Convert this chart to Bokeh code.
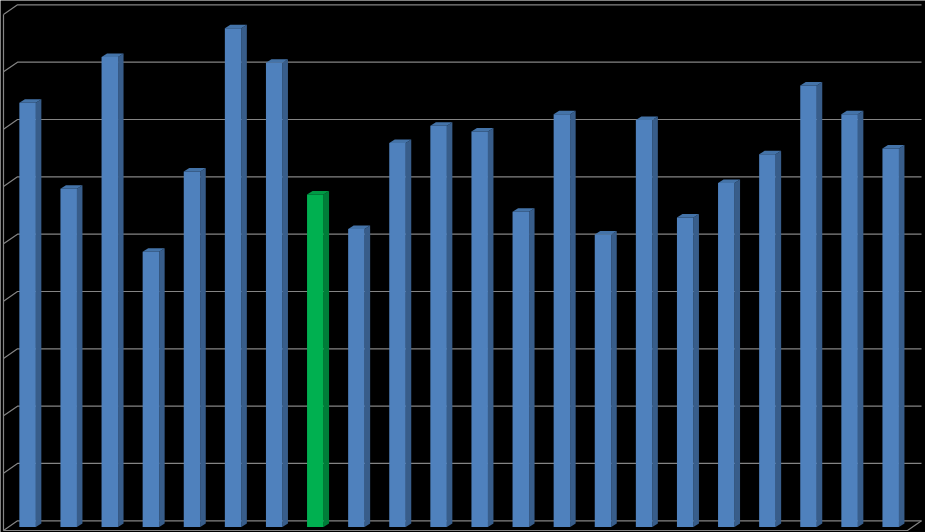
from bokeh.plotting import figure
from bokeh.models import Range1d
from bokeh.embed import file_html
from bokeh.resources import INLINE

# Chart data (no labels are shown in the reference)
categories = list(range(22))
values = [7.4, 5.9, 8.2, 4.8, 6.2, 8.7, 8.1, 5.8, 5.2, 6.7, 7.0,
          6.9, 5.5, 7.2, 5.1, 7.1, 5.4, 6.0, 6.5, 7.7, 7.2, 6.6]
highlight = 7
grid_values = list(range(10))

# Scale: pixel = origin + unit * value
W, H = 925, 532
X0, XU = 27.1, 41.1
Y0, YU = 526.5, 57.33

BAR_W = 16.5 / XU
SIDE_DX = 5.5 / XU
SIDE_DY = 3.5 / YU
WALL_DX = 14.0 / XU
WALL_DY = 6.2 / YU        # back wall zero above the bar base
FLOOR_DY = -3.5 / YU      # front floor edge below the bar base
LEFT = (3 - X0) / XU
RIGHT_FRONT = (907 - X0) / XU

GRID = "#848484"
FRONT, SIDE, TOP = "#4f81bd", "#385d8a", "#4473a8"
G_FRONT, G_SIDE, G_TOP = "#00b050", "#007d39", "#009a45"

p = figure(width=W, height=H, output_backend="svg", toolbar_location=None,
           x_range=Range1d(-X0 / XU, (W - X0) / XU),
           y_range=Range1d((Y0 - H) / YU, Y0 / YU),
           background_fill_color="black", border_fill_color="black",
           min_border=0, min_border_left=0, min_border_right=0,
           min_border_top=0, min_border_bottom=0,
           outline_line_color=None)
p.axis.visible = False
p.xgrid.visible = False
p.ygrid.visible = False

# Walls and gridlines
for g in grid_values:
    yb = g + WALL_DY
    yf = g + FLOOR_DY
    p.line([LEFT, LEFT + WALL_DX, RIGHT_FRONT + WALL_DX], [yf, yb, yb],
           line_color=GRID, line_width=1.2)
p.line([LEFT, LEFT], [FLOOR_DY, grid_values[-1] + FLOOR_DY], line_color=GRID, line_width=1.2)
p.line([LEFT, RIGHT_FRONT, RIGHT_FRONT + WALL_DX],
       [FLOOR_DY, FLOOR_DY, WALL_DY], line_color=GRID, line_width=1.2)

# 3-D bars
for c, v in zip(categories, values):
    f, s, t = (G_FRONT, G_SIDE, G_TOP) if c == highlight else (FRONT, SIDE, TOP)
    l, r = c - BAR_W / 2, c + BAR_W / 2
    p.patch([r, r + SIDE_DX, r + SIDE_DX, r], [0, SIDE_DY, v + SIDE_DY, v],
            fill_color=s, line_color=None)
    p.patch([l, l + SIDE_DX, r + SIDE_DX, r], [v, v + SIDE_DY, v + SIDE_DY, v],
            fill_color=t, line_color=None)
    p.quad(left=l, right=r, bottom=0, top=v, fill_color=f, line_color=None)

open("out.html", "w").write(file_html(p, INLINE))
